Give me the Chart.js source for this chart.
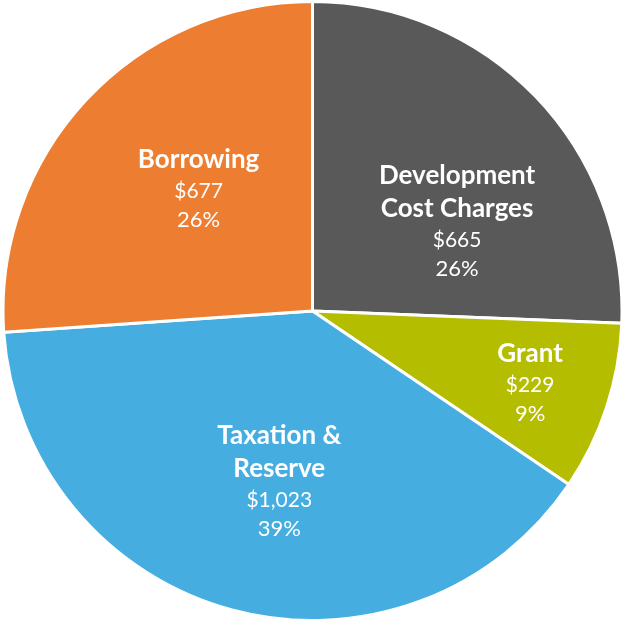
<!DOCTYPE html>
<html>
<head>
<meta charset="utf-8">
<script src="https://cdn.jsdelivr.net/npm/chart.js@4"></script>
<style>
  html, body { margin: 0; padding: 0; background: #fff; overflow: hidden; }
  canvas { display: block; }
</style>
</head>
<body>
<canvas id="chart" width="625" height="622"></canvas>
<script>
// Capital funding sources
const categories = [['Development', 'Cost Charges'], ['Grant'], ['Taxation &', 'Reserve'], ['Borrowing']];
const amounts = [665, 229, 1023, 677];
const amountLabels = ['$665', '$229', '$1,023', '$677'];
const percentLabels = ['26%', '9%', '39%', '26%'];
const colors = ['#595959', '#b5bd00', '#45ade0', '#ed7d31'];

// where each label sits: shift off the mid angle (deg) and fraction of radius
const labelSpots = [
  { turn: 12, frac: 0.55 },
  { turn: 0, frac: 0.74 },
  { turn: -4, frac: 0.56 },
  { turn: 4, frac: 0.54 }
];

const sliceLabels = {
  id: 'sliceLabels',
  afterDatasetsDraw: (chart) => {
    const ctx = chart.ctx;
    const arcs = chart.getDatasetMeta(0).data;
    ctx.save();
    ctx.fillStyle = '#ffffff';
    ctx.textAlign = 'center';
    ctx.textBaseline = 'middle';
    arcs.forEach((arc, i) => {
      const p = arc.getProps(['x', 'y', 'startAngle', 'endAngle', 'outerRadius'], true);
      const mid = (p.startAngle + p.endAngle) / 2 + labelSpots[i].turn * Math.PI / 180;
      const r = p.outerRadius * labelSpots[i].frac;
      const cx = p.x + Math.cos(mid) * r;
      const cy = p.y + Math.sin(mid) * r;
      const lines = [];
      categories[i].forEach(t => lines.push({ t, font: 'bold 26px Lato', h: 33 }));
      lines.push({ t: amountLabels[i], font: '21px Lato', h: 30 });
      lines.push({ t: percentLabels[i], font: '22px Lato', h: 28 });
      const total = lines.reduce((s, l) => s + l.h, 0);
      let y = cy - total / 2;
      lines.forEach(l => {
        ctx.font = l.font;
        ctx.fillText(l.t, cx, y + l.h / 2);
        y += l.h;
      });
    });
    ctx.restore();
  }
};

new Chart(document.getElementById('chart').getContext('2d'), {
  type: 'pie',
  data: {
    labels: categories.map(c => c.join(' ')),
    datasets: [{
      data: amounts,
      backgroundColor: colors,
      borderColor: '#ffffff',
      borderWidth: 3
    }]
  },
  options: {
    responsive: false,
    animation: false,
    layout: { padding: 0 },
    plugins: {
      legend: { display: false },
      tooltip: { enabled: false }
    }
  },
  plugins: [sliceLabels]
});
</script>
</body>
</html>
